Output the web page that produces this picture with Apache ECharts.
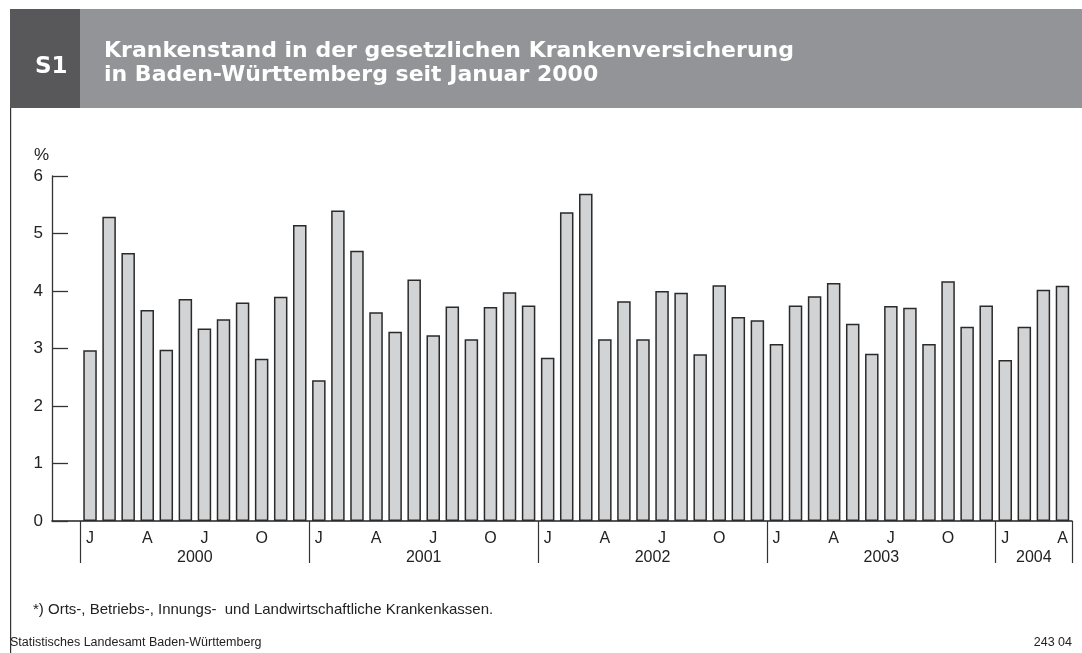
<!DOCTYPE html>
<html>
<head>
<meta charset="utf-8">
<script src="https://cdn.jsdelivr.net/npm/echarts@6/dist/echarts.min.js"></script>
<style>
  html, body { margin: 0; padding: 0; background: #fff; }
  #chart { width: 1082px; height: 653px; }
</style>
</head>
<body>
<div id="chart"></div>
<script>
// Krankenstand in %, monthly values
const rate2000 = [2.97, 5.29, 4.66, 3.67, 2.98, 3.86, 3.35, 3.51, 3.80, 2.82, 3.90, 5.15];
const rate2001 = [2.45, 5.40, 4.70, 3.63, 3.29, 4.20, 3.23, 3.73, 3.16, 3.72, 3.98, 3.75];
const rate2002 = [2.84, 5.37, 5.69, 3.16, 3.82, 3.16, 4.00, 3.97, 2.90, 4.10, 3.55, 3.49];
const rate2003 = [3.08, 3.75, 3.91, 4.14, 3.43, 2.91, 3.74, 3.71, 3.08, 4.17, 3.38, 3.75];
const rate2004 = [2.80, 3.38, 4.02, 4.09];

const years = ['2000', '2001', '2002', '2003', '2004'];
const monthLetters = ['J', 'F', 'M', 'A', 'M', 'J', 'J', 'A', 'S', 'O', 'N', 'D'];
const labelledMonths = [0, 3, 6, 9]; // J, A, J, O

const FONT = '"Liberation Sans", Arial, sans-serif';
const HEAD_FONT = '"DejaVu Sans", "Liberation Sans", sans-serif';
const INK = '#222';

const perYear = [rate2000, rate2001, rate2002, rate2003, rate2004];
const categories = [];
const values = [];
const labelFor = [];
perYear.forEach((arr, y) => {
    arr.forEach((v, m) => {
        categories.push(years[y] + '-' + (m + 1));
        values.push(v);
        labelFor.push(labelledMonths.includes(m) ? monthLetters[m] : '');
    });
    // year label sits under the middle of its months (shifted half a band via padding)
    const mid = Math.floor(arr.length / 2) - 1;
    const idx = categories.length - arr.length + mid;
    labelFor[idx] = (labelFor[idx] || ' ') + '\n{y|' + years[y] + '}';
});

const chart = echarts.init(document.getElementById('chart'));

chart.setOption({
    animation: false,
    backgroundColor: '#fff',
    graphic: [
        { type: 'rect', left: 10, top: 9, shape: { width: 1072, height: 99 }, style: { fill: '#939497' }, z: 0 },
        { type: 'rect', left: 10, top: 9, shape: { width: 70, height: 99 }, style: { fill: '#58585a' }, z: 1 },
        { type: 'rect', left: 10, top: 108, shape: { width: 1.2, height: 545 }, style: { fill: '#333' }, z: 1 },
        {
            type: 'text', left: 33, top: 602,
            style: { text: '*) Orts-, Betriebs-, Innungs-  und Landwirtschaftliche Krankenkassen.', font: '15px ' + FONT, fill: INK }
        },
        {
            type: 'text', left: 10, top: 636,
            style: { text: 'Statistisches Landesamt Baden-Württemberg', font: '12.5px ' + FONT, fill: INK }
        },
        {
            type: 'text', right: 10, top: 636,
            style: { text: '243 04', font: '12.5px ' + FONT, fill: INK }
        }
    ],
    title: [
        {
            text: 'S1', left: 30, top: 51,
            textStyle: { color: '#fff', fontSize: 23, fontWeight: 'bold', fontFamily: HEAD_FONT }
        },
        {
            text: 'Krankenstand in der gesetzlichen Krankenversicherung\nin Baden-Württemberg seit Januar 2000',
            left: 99, top: 34,
            textStyle: { color: '#fff', fontSize: 22, fontWeight: 'bold', fontFamily: HEAD_FONT, lineHeight: 24 }
        }
    ],
    grid: [
        { left: 80.5, right: 10, top: 176, bottom: 132 },
        { left: 52, right: 10, top: 176, bottom: 132 }
    ],
    xAxis: [
        {
            type: 'category', gridIndex: 0, data: categories, boundaryGap: true,
            axisLine: { show: false },
            axisTick: {
                show: true, inside: false, length: 42,
                interval: (i) => i % 12 === 0,
                lineStyle: { color: '#333', width: 1.2 }
            },
            axisLabel: {
                interval: 0, margin: 8,
                color: INK, fontFamily: FONT, fontSize: 16, lineHeight: 19,
                formatter: (val, i) => labelFor[i],
                rich: {
                    y: { fontFamily: FONT, fontSize: 16, lineHeight: 19, color: INK, padding: [0, 0, 0, 19] }
                }
            },
            splitLine: { show: false }
        },
        {
            type: 'value', gridIndex: 1, min: 0, max: 1,
            axisLine: { show: true, lineStyle: { color: '#222', width: 1.6 } },
            axisTick: { show: false }, axisLabel: { show: false }, splitLine: { show: false }
        }
    ],
    yAxis: [
        {
            type: 'value', gridIndex: 0, min: 0, max: 6, interval: 1,
            axisLine: { show: false }, axisTick: { show: false },
            axisLabel: { show: false }, splitLine: { show: false }
        },
        {
            type: 'value', gridIndex: 1, min: 0, max: 6, interval: 1,
            name: '%', nameLocation: 'end', nameGap: 12,
            nameTextStyle: { color: INK, fontFamily: FONT, fontSize: 17, align: 'right', padding: [0, 3, 0, 0] },
            axisLine: { show: true, lineStyle: { color: '#333', width: 1.3 } },
            axisTick: { show: true, inside: true, length: 16, lineStyle: { color: '#333', width: 1.3 } },
            axisLabel: { color: INK, fontFamily: FONT, fontSize: 17, margin: 9 },
            splitLine: { show: false }
        }
    ],
    series: [
        {
            type: 'bar', xAxisIndex: 0, yAxisIndex: 0,
            data: values, barWidth: 13.5,
            itemStyle: { color: '#d2d3d5', borderColor: '#2a2a2a', borderWidth: 1.5 },
            z: 3
        }
    ]
});
</script>
</body>
</html>
